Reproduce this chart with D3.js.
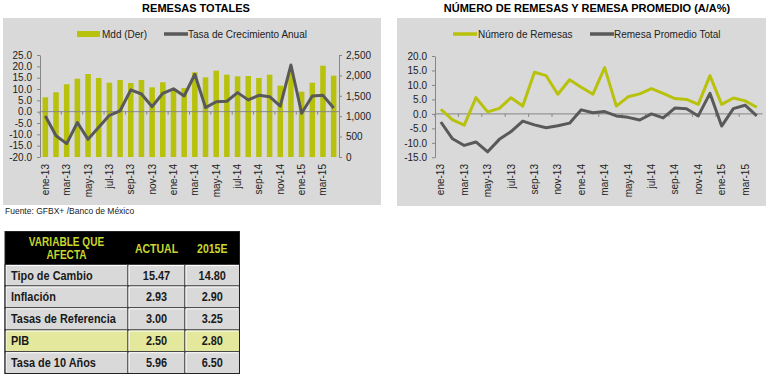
<!DOCTYPE html>
<html>
<head>
<meta charset="utf-8">
<script src="https://cdn.jsdelivr.net/npm/d3@7"></script>
<style>
  body { margin: 0; background: #fff; }
  svg text { font-family: "Liberation Sans", Arial, sans-serif; }
</style>
</head>
<body>
<div id="chart"></div>
<script>
// meses (categorías)
const meses = ["ene-13","feb-13","mar-13","abr-13","may-13","jun-13","jul-13","ago-13","sep-13","oct-13","nov-13","dic-13",
  "ene-14","feb-14","mar-14","abr-14","may-14","jun-14","jul-14","ago-14","sep-14","oct-14","nov-14","dic-14",
  "ene-15","feb-15","mar-15","abr-15"];

// remesas totales, millones de dólares (eje derecho)
const mdd = [1463,1586,1782,1919,2034,1936,1821,1887,1814,1887,1708,1831,1642,1691,
  2075,1953,2116,2017,1977,1985,1936,2017,1748,2080,1601,1821,2238,1993];

// tasa de crecimiento anual (%)
const tasa = [-1.9,-10.6,-14.1,-4.8,-12.2,-6.9,-1.6,0.4,9.6,7.8,2.2,8.1,10.1,6.9,
  16.5,1.8,4.4,4.6,8.4,5.2,7.2,6.6,2.4,20.6,-0.7,6.9,7.2,1.6];

// número de remesas (A/A%)
const numeroRemesas = [1.6,-2.1,-3.9,5.6,0.7,1.9,5.6,2.7,14.4,13.2,6.8,11.8,9.2,6.8,
  16.0,2.7,5.9,6.9,8.7,7.1,5.3,5.0,3.3,13.2,3.3,5.5,4.5,2.3];

// remesa promedio total (A/A%)
const remesaPromedio = [-2.8,-8.6,-10.9,-9.7,-13.1,-8.8,-6.1,-2.5,-3.8,-4.8,-4.1,-3.2,1.4,0.4,
  0.8,-0.7,-1.2,-2.1,0.0,-1.4,2.0,1.8,-0.7,7.1,-4.2,1.8,3.0,-0.7];

const ticksIzq = [-20,-15,-10,-5,0,5,10,15,20,25];
const ticksDer = [0,500,1000,1500,2000,2500];
const ticksProm = [-15,-10,-5,0,5,10,15,20];

// tabla
const encabezados = ["VARIABLE QUE|AFECTA", "ACTUAL", "2015E"];
const variables = ["Tipo de Cambio","Inflación","Tasas de Referencia","PIB","Tasa de 10 Años"];
const actual = ["15.47","2.93","3.00","2.50","5.96"];
const estimado = ["14.80","2.90","3.25","2.80","6.50"];

const verde = "#b8c20c";
const gris = "#595959";
const fondo = "#d9d9d9";
const ejeColor = "#868686";

const svg = d3.select("#chart").append("svg")
  .attr("width", 770).attr("height", 379);

// Paneles
svg.append("rect").attr("x", 3).attr("y", 18).attr("width", 378).attr("height", 187).attr("fill", fondo);
svg.append("rect").attr("x", 397).attr("y", 18).attr("width", 369).attr("height", 188).attr("fill", fondo);

// Títulos
svg.append("text").attr("x", 196).attr("y", 12).attr("text-anchor", "middle")
  .style("font-size", "11px").style("font-weight", "bold").text("REMESAS TOTALES");
svg.append("text").attr("x", 587).attr("y", 12).attr("text-anchor", "middle")
  .style("font-size", "11px").style("font-weight", "bold").text("NÚMERO DE REMESAS Y REMESA PROMEDIO (A/A%)");

// eje X de categorías compartido
function ejeX(g, x, y0, yLabel) {
  g.append("line").attr("x1", x.range()[0]).attr("x2", x.range()[1])
    .attr("y1", y0).attr("y2", y0).attr("stroke", ejeColor);
  meses.forEach((m, i) => {
    if (i % 2 !== 0) return;
    const borde = x(m) + x.bandwidth() / 2 - x.step() / 2;
    g.append("line").attr("x1", borde).attr("x2", borde)
      .attr("y1", y0).attr("y2", y0 + 3).attr("stroke", ejeColor);
    const cx = x(m) + x.bandwidth() / 2;
    g.append("text")
      .attr("transform", `translate(${cx + 3.5},${yLabel}) rotate(-90)`)
      .attr("text-anchor", "end")
      .style("font-size", "10px").attr("fill", "#222")
      .text(m);
  });
}

function estiloEje(g) {
  g.select(".domain").attr("stroke", ejeColor);
  g.selectAll(".tick line").attr("stroke", ejeColor);
  g.selectAll(".tick text").style("font-size", "10px").attr("fill", "#222")
    .style("font-family", "'Liberation Sans', Arial, sans-serif");
}

// ---------- Gráfica izquierda ----------
const x1 = d3.scaleBand().domain(meses).range([40, 339]).paddingInner(0.48).paddingOuter(0.24);
const yIzq = d3.scaleLinear().domain([-20, 25]).range([157, 55]);
const yDer = d3.scaleLinear().domain([0, 2500]).range([157, 55]);

const g1 = svg.append("g");

g1.selectAll("rect.barra").data(mdd).join("rect")
  .attr("class", "barra")
  .attr("x", (d, i) => x1(meses[i]))
  .attr("width", x1.bandwidth())
  .attr("y", d => yDer(d))
  .attr("height", d => yDer(0) - yDer(d))
  .attr("fill", verde);

g1.append("g").attr("transform", "translate(40,0)")
  .call(d3.axisLeft(yIzq).tickValues(ticksIzq).tickFormat(d => d.toFixed(1)).tickSize(3).tickSizeOuter(0).tickPadding(5))
  .call(estiloEje);

g1.append("g").attr("transform", "translate(339,0)")
  .call(d3.axisRight(yDer).tickValues(ticksDer).tickFormat(d3.format(",")).tickSize(3).tickSizeOuter(0).tickPadding(4))
  .call(estiloEje);

ejeX(g1, x1, yIzq(0), 164);

const lineaIzq = d3.line()
  .x((d, i) => x1(meses[i]) + x1.bandwidth() / 2)
  .y(d => yIzq(d));

g1.append("path").datum(tasa)
  .attr("d", lineaIzq).attr("fill", "none")
  .attr("stroke", gris).attr("stroke-width", 3).attr("stroke-linejoin", "round");

// leyenda izquierda
g1.append("rect").attr("x", 77).attr("y", 31).attr("width", 23).attr("height", 6).attr("fill", verde);
g1.append("text").attr("x", 102).attr("y", 38).style("font-size", "10px").attr("fill", "#222").text("Mdd (Der)");
g1.append("line").attr("x1", 164).attr("x2", 188).attr("y1", 34).attr("y2", 34)
  .attr("stroke", gris).attr("stroke-width", 3.5);
g1.append("text").attr("x", 188).attr("y", 38).style("font-size", "10px").attr("fill", "#222").text("Tasa de Crecimiento Anual");

// ---------- Gráfica derecha ----------
const x2 = d3.scaleBand().domain(meses).range([435, 762.6]);
const yProm = d3.scaleLinear().domain([-15, 20]).range([157.3, 56]);

const g2 = svg.append("g");

g2.append("g").attr("transform", "translate(435,0)")
  .call(d3.axisLeft(yProm).tickValues(ticksProm).tickFormat(d => d.toFixed(1)).tickSize(3).tickSizeOuter(0).tickPadding(5))
  .call(estiloEje);

ejeX(g2, x2, yProm(0), 164);

const lineaDer = d3.line()
  .x((d, i) => x2(meses[i]) + x2.bandwidth() / 2)
  .y(d => yProm(d));

g2.append("path").datum(remesaPromedio)
  .attr("d", lineaDer).attr("fill", "none")
  .attr("stroke", gris).attr("stroke-width", 3).attr("stroke-linejoin", "round");
g2.append("path").datum(numeroRemesas)
  .attr("d", lineaDer).attr("fill", "none")
  .attr("stroke", verde).attr("stroke-width", 3).attr("stroke-linejoin", "round");

// leyenda derecha
g2.append("line").attr("x1", 453).attr("x2", 477).attr("y1", 34).attr("y2", 34)
  .attr("stroke", verde).attr("stroke-width", 3.5);
g2.append("text").attr("x", 478).attr("y", 38).style("font-size", "10px").attr("fill", "#222").text("Número de Remesas");
g2.append("line").attr("x1", 590).attr("x2", 614).attr("y1", 34).attr("y2", 34)
  .attr("stroke", gris).attr("stroke-width", 3.5);
g2.append("text").attr("x", 614).attr("y", 38).style("font-size", "10px").attr("fill", "#222").text("Remesa Promedio Total");

// Fuente
svg.append("text").attr("x", 5).attr("y", 214).style("font-size", "8.5px").attr("fill", "#222")
  .text("Fuente: GFBX+ /Banco de México");

// ---------- Tabla ----------
const colX = [5, 128, 185, 239.5];
const filaY = [231.5, 264.5, 286, 307.8, 330, 351.7, 373.5];
const angosto = 0.84; // letra condensada (tipo Arial Narrow)
const tabla = svg.append("g");

function textoTabla(x, y, txt, anchor, size, color) {
  return tabla.append("text")
    .attr("transform", `translate(${x},${y}) scale(${angosto},1)`)
    .attr("text-anchor", anchor)
    .style("font-size", size + "px").style("font-weight", "bold")
    .attr("fill", color)
    .text(txt);
}

// encabezado
tabla.append("rect").attr("x", colX[0]).attr("y", filaY[0])
  .attr("width", colX[3] - colX[0]).attr("height", filaY[1] - filaY[0]).attr("fill", "#000");
encabezados.forEach((h, j) => {
  const cx = (colX[j] + colX[j + 1]) / 2;
  const lineas = h.split("|");
  if (lineas.length === 2) {
    textoTabla(cx, 246, lineas[0], "middle", 12, "#c8d72e");
    textoTabla(cx, 258.5, lineas[1], "middle", 12, "#c8d72e");
  } else {
    textoTabla(cx, 253, h, "middle", 12.5, "#c8d72e");
  }
});

variables.forEach((v, i) => {
  const y0 = filaY[i + 1], y1 = filaY[i + 2];
  const relleno = v === "PIB" ? "#e4e89c" : "#d9d9d9";
  const valores = [v, actual[i], estimado[i]];
  valores.forEach((val, j) => {
    tabla.append("rect").attr("x", colX[j]).attr("y", y0)
      .attr("width", colX[j + 1] - colX[j]).attr("height", y1 - y0)
      .attr("fill", relleno).attr("stroke", "#3a3a3a").attr("stroke-width", 1);
    tabla.append("polyline")
      .attr("points", `${colX[j] + 1},${y1 - 1} ${colX[j] + 1},${y0 + 1} ${colX[j + 1] - 1},${y0 + 1}`)
      .attr("fill", "none").attr("stroke", "#fff").attr("stroke-width", 1);
    textoTabla(j === 0 ? colX[0] + 6 : (colX[j] + colX[j + 1]) / 2,
      (y0 + y1) / 2 + 4.5, val, j === 0 ? "start" : "middle", 13, "#1a1a1a");
  });
});
tabla.append("rect").attr("x", colX[0]).attr("y", filaY[0])
  .attr("width", colX[3] - colX[0]).attr("height", filaY[6] - filaY[0])
  .attr("fill", "none").attr("stroke", "#222").attr("stroke-width", 1);
</script>
</body>
</html>
